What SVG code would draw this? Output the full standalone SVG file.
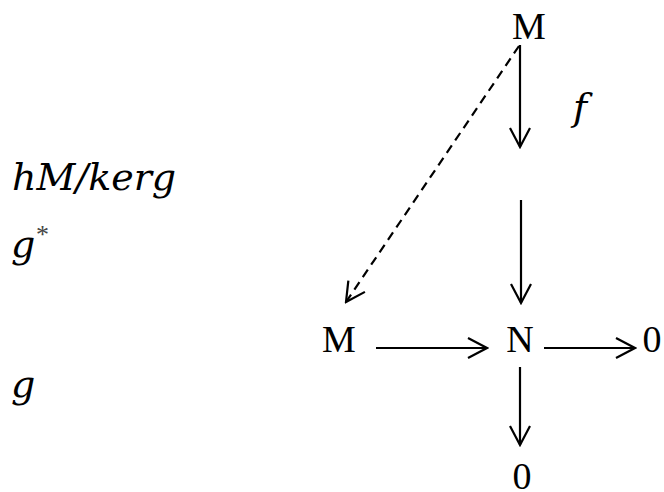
<svg xmlns="http://www.w3.org/2000/svg" width="664" height="492" viewBox="0 0 664 492">
<style>
.node{font-family:"Liberation Serif","Times New Roman",serif;font-size:38px;fill:#000;text-anchor:middle}
.math{font-family:"DejaVu Serif",serif;font-style:italic;font-size:38px;fill:#000}
.ln{stroke:#000;stroke-width:2.2;fill:none}
.dash{stroke-dasharray:9 6}
</style>
<defs>
<marker id="arr" viewBox="-20 -11 22 22" markerWidth="22" markerHeight="22" refX="0" refY="0" orient="auto" markerUnits="userSpaceOnUse">
<path d="M-19,-10 L0,0 L-19,10" stroke="#000" stroke-width="2.2" fill="none"/>
</marker>
</defs>
<g id="labels">
<text class="math" x="12" y="190">hM/kerg</text>
<g id="gstar"><text class="math" x="11" y="257">g</text><text x="36" y="243" font-family="Liberation Serif,serif" font-size="26" fill="#444">*</text></g>
<text class="math" x="11" y="397">g</text>
<text class="math" x="573" y="120">f</text>
</g>
<g id="nodeMtop"><text class="node" x="529" y="39">M</text></g>
<g id="nodeM"><text class="node" x="339" y="352">M</text></g>
<g id="nodeN"><text class="node" x="520" y="352">N</text></g>
<g id="nodeZeroRight"><text class="node" x="652" y="352">0</text></g>
<g id="nodeZeroBottom"><text class="node" x="522" y="489">0</text></g>
<g id="connectors">
<line class="ln" x1="520" y1="45" x2="520" y2="147" marker-end="url(#arr)"/>
<line class="ln" x1="521" y1="200" x2="521" y2="303" marker-end="url(#arr)"/>
<line class="ln dash" x1="519" y1="46" x2="346" y2="302" marker-end="url(#arr)"/>
<line class="ln" x1="376" y1="348" x2="487" y2="348" marker-end="url(#arr)"/>
<line class="ln" x1="544" y1="348" x2="635" y2="348" marker-end="url(#arr)"/>
<line class="ln" x1="520" y1="367" x2="520" y2="445" marker-end="url(#arr)"/>
</g>
</svg>
